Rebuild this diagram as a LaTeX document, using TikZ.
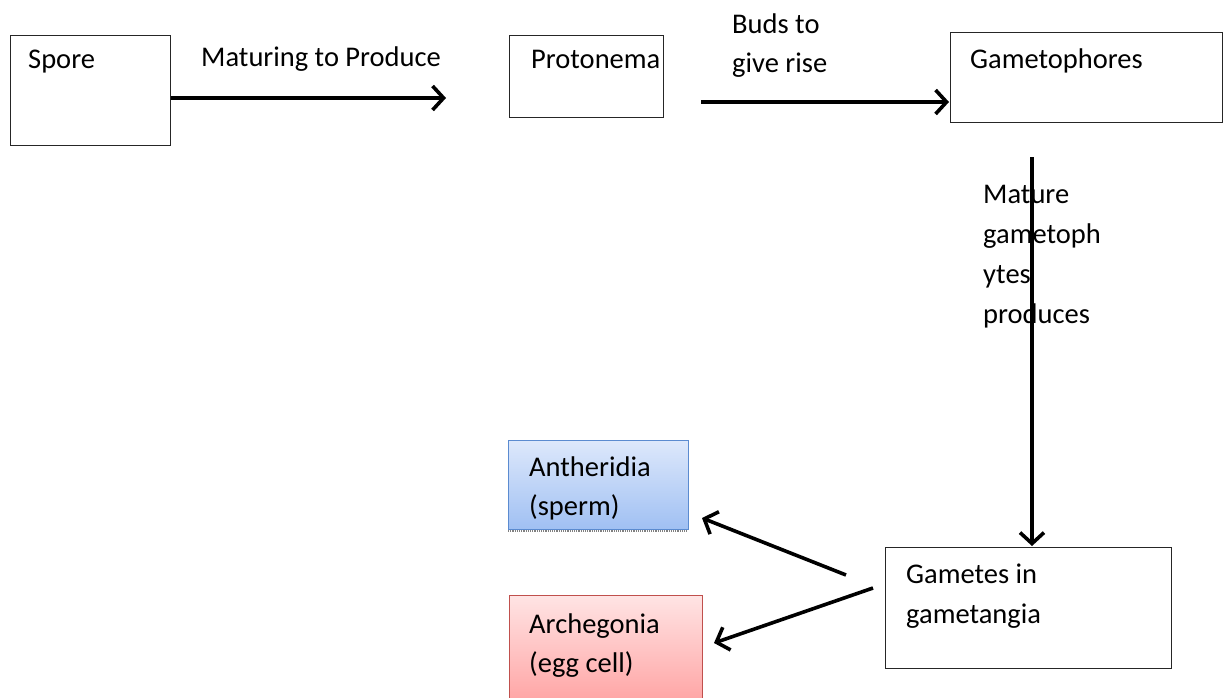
\documentclass[tikz,border=0pt]{standalone}
\usepackage{fontspec}
\setmainfont{Carlito}
\usetikzlibrary{arrows.meta}
\definecolor{blueborder}{HTML}{5B8BD0}
\definecolor{bluetop}{HTML}{DDE8FB}
\definecolor{bluebot}{HTML}{A0C0F3}
\definecolor{redborder}{HTML}{C0504D}
\definecolor{redtop}{HTML}{FFE4E4}
\definecolor{redbot}{HTML}{FFA6A6}
\tikzset{
  box/.style={draw=black!85, line width=1pt, anchor=north west, inner sep=0pt},
  txt/.style={anchor=base west, inner sep=0pt, font=\fontsize{28.5}{39}\selectfont},
  arr/.style={line width=3.6pt, -{Straight Barb[length=11pt,width=24pt]}},
}
\begin{document}
\begin{tikzpicture}[x=1pt,y=-1pt]
\useasboundingbox (0,0) rectangle (1223,698);
% boxes
\node[box, minimum width=160pt, minimum height=110pt] (spore) at (10,35) {};
\node[box, minimum width=154pt, minimum height=82pt] (proto) at (509,35) {};
\node[box, minimum width=272pt, minimum height=90pt] (gameto) at (950,32) {};
\node[box, minimum width=286pt, minimum height=121pt] (gametes) at (885,547) {};
\draw[gray, densely dotted, line width=1.2pt] (508,531) -- (688,531);
\node[box, draw=blueborder, top color=bluetop, bottom color=bluebot, minimum width=180pt, minimum height=89pt] (anther) at (508,440) {};
\node[box, draw=redborder, top color=redtop, bottom color=redbot, minimum width=193pt, minimum height=104pt] (arche) at (509,595) {};
% texts (multi-line nodes: base = last line)
\node[txt] (tspore) at (28,69) {Spore};
\node[txt] (tmat) at (201,67) {Maturing to Produce};
\node[txt] (tproto) at (531,69) {Protonema};
\node[txt, align=left] (tbuds) at (732,73) {Buds to\\give rise};
\node[txt] (tgameto) at (970,69) {Gametophores};
\node[txt, align=left, font=\fontsize{28.5}{40}\selectfont] (tmature) at (983,323) {Mature\\gametoph\\ytes\\produces};
\node[txt, align=left, font=\fontsize{28.5}{40}\selectfont] (tgametes) at (906,623) {Gametes in\\gametangia};
\node[txt, align=left] (tanther) at (529,515) {Antheridia\\(sperm)};
\node[txt, align=left] (tarche) at (529,672) {Archegonia\\(egg cell)};
% connector endpoints
\coordinate (a1s) at (spore.east |- 0,98);
\coordinate (a1e) at (446,98);
\coordinate (a2s) at (701,102);
\coordinate (a2e) at (949,102);
\coordinate (a3s) at (1032,157);
\coordinate (a3e) at (1032,546);
\coordinate (a4s) at (846,575);
\coordinate (a4e) at (702,518);
\coordinate (a5s) at (873,588);
\coordinate (a5e) at (714,643);
% connectors
\draw[arr] (a1s) -- (a1e);
\draw[arr] (a2s) -- (a2e);
\draw[arr] (a3s) -- (a3e);
\draw[arr] (a4s) -- (a4e);
\draw[arr] (a5s) -- (a5e);
\end{tikzpicture}
\end{document}
